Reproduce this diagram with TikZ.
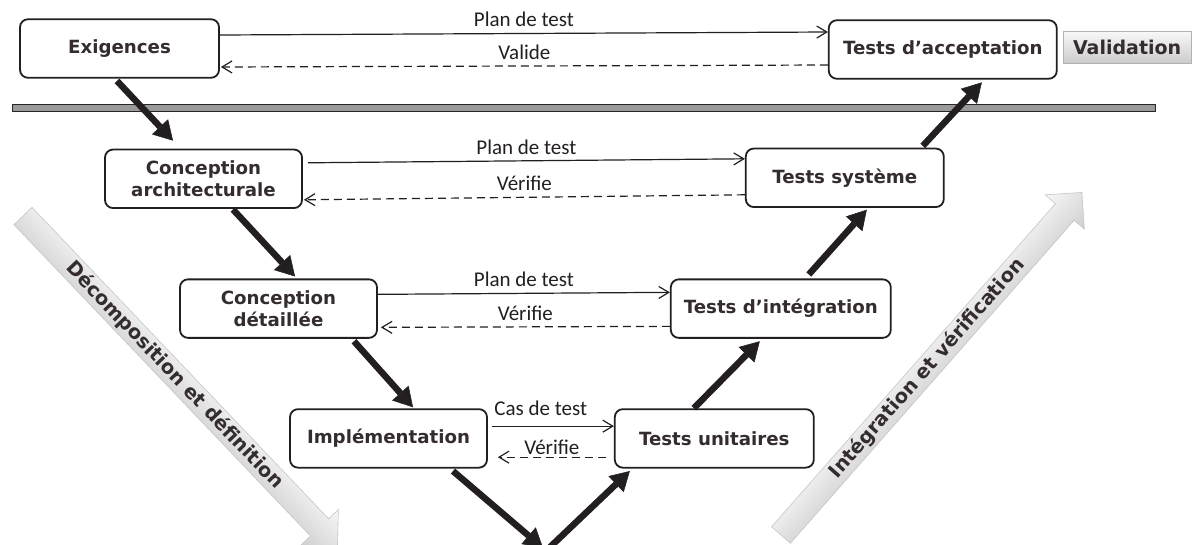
\documentclass[tikz,border=0pt]{standalone}
\usepackage{fontspec}
\usepackage{tikz}
\usepackage{xcolor}
\usetikzlibrary{arrows.meta,positioning}

\newfontfamily\dejavu{DejaVu Sans}
\newfontfamily\carlito{Carlito}
\definecolor{trait}{HTML}{231F20}
\definecolor{texte}{HTML}{352D2D}
\definecolor{barre}{HTML}{9A9A9A}

\begin{document}
\begin{tikzpicture}[x=1pt,y=-1pt,line join=miter]
  \tikzstyle{etape}=[draw=trait,line width=1.8pt,rounded corners=8pt,fill=white,text=texte,
                     font=\dejavu\bfseries\fontsize{18.2}{21.7}\selectfont,align=center,
                     inner sep=0pt,minimum height=58.5pt]
  \tikzstyle{flux}=[draw=trait,line width=6.5pt,-{Triangle[length=19pt,width=22pt,line width=0.5pt]}]
  \tikzstyle{plan}=[draw=trait,line width=1.2pt,-{Straight Barb[length=10pt,width=12pt]}]
  \tikzstyle{retour}=[plan,dash pattern=on 8pt off 5pt]
  \tikzstyle{etiq}=[font=\carlito\fontsize{21}{25}\selectfont,text=trait,inner sep=0pt]
  \tikzstyle{grise}=[draw=gray!45,line width=0.6pt,top color=gray!6,bottom color=gray!38]
  \tikzstyle{oblique}=[font=\dejavu\bfseries\fontsize{19.5}{23}\selectfont,text=texte,inner sep=0pt]
  \tikzstyle{phase}=[draw=gray!60,line width=0.8pt,top color=gray!5,bottom color=gray!40,text=texte,
                     font=\dejavu\bfseries\fontsize{19}{23}\selectfont,
                     minimum width=128pt,minimum height=32pt,inner sep=0pt]

  \path[fill=white,use as bounding box] (0,0) rectangle (1197,544);
  \clip (0,0) rectangle (1197,544);

  % grandes fleches grises
  \begin{scope}[transform canvas={shift={(23,216)},rotate=-46.4}]
    \shadedraw[grise] (0,-12.5) -- (430,-12.5) -- (430,-26) -- (456,0) -- (430,26) -- (430,12.5) -- (0,12.5) -- cycle;
    \node[oblique] (decomp) at (220,0) {Décomposition et définition};
  \end{scope}
  \begin{scope}[transform canvas={shift={(781,535)},rotate=48.7}]
    \shadedraw[grise] (0,-12.5) -- (430,-12.5) -- (430,-26) -- (456,0) -- (430,26) -- (430,12.5) -- (0,12.5) -- cycle;
    \node[oblique] (integ) at (221.5,0) {Intégration et vérification};
  \end{scope}

  % barre de validation
  \draw[draw=gray!30!black,line width=0.8pt,fill=barre] (12,104) rectangle (1155,111);

  % branche gauche
  \node[etape,minimum width=199pt] (exig) at (119.5,48.5) {Exigences};
  \node[etape,minimum width=197pt] (ca) [below=70pt of exig,xshift=84pt] {Conception\\architecturale};
  \node[etape,minimum width=197pt] (cd) [below=69.5pt of ca,xshift=75pt] {Conception\\détaillée};
  \node[etape,minimum width=197pt] (impl) [below=69.5pt of cd,xshift=110pt] {Implémentation};

  % branche droite
  \node[etape,minimum width=228pt] (accept) [right=608pt of exig,yshift=-1pt] {Tests d’acceptation};
  \node[phase] (valid) [right=5pt of accept,yshift=2.5pt] {Validation};
  \node[etape,minimum width=198pt] (ts) [right=442pt of ca,yshift=1pt] {Tests système};
  \node[etape,minimum width=220pt] (ti) [right=292pt of cd] {Tests d’intégration};
  \node[etape,minimum width=199pt] (tu) [right=126pt of impl] {Tests unitaires};

  \coordinate (fondg) at (543,548);
  \coordinate (fondd) at (548,549);

  \path ([yshift=13.5pt]exig.east) edge[plan] node[etiq,above=6pt] {Plan de test} ([yshift=17.5pt]accept.west)
        ([yshift=-15.5pt]accept.west) edge[retour] node[etiq,above=6pt] {Valide} ([xshift=1pt,yshift=-18.5pt]exig.east)
        ([xshift=5pt,yshift=16pt]ca.east) edge[plan] node[etiq,above=6pt] {Plan de test} ([yshift=19pt]ts.west)
        ([yshift=-17pt]ts.west) edge[retour] node[etiq,above=6pt] {Vérifie} ([xshift=1pt,yshift=-21pt]ca.east)
        ([yshift=14.25pt]cd.east) edge[plan] node[etiq,above=6pt] {Plan de test} ([yshift=16.25pt]ti.west)
        ([yshift=-17.75pt]ti.west) edge[retour] node[etiq,above=6pt] {Vérifie} ([xshift=3pt,yshift=-18.75pt]cd.east)
        ([xshift=4pt,yshift=12.25pt]impl.east) edge[plan] node[etiq,above=10pt,pos=0.4] {Cas de test} ([yshift=12.25pt]tu.west)
        ([xshift=-8pt,yshift=-18.75pt]tu.west) edge[retour] node[etiq,above=2pt] {Vérifie} ([xshift=10pt,yshift=-18.75pt]impl.east);

  \draw[flux] ([xshift=-2.5pt,yshift=-2.25pt]exig.south) -- ([xshift=-30.5pt,yshift=8pt]ca.north);
  \draw[flux] ([xshift=29.5pt,yshift=-0.5pt]ca.south) -- ([xshift=16.5pt,yshift=2pt]cd.north);
  \draw[flux] ([xshift=75.5pt,yshift=-2.5pt]cd.south) -- ([xshift=24.5pt,yshift=1pt]impl.north);
  \draw[flux] ([xshift=64.5pt,yshift=-2.5pt]impl.south) -- (fondg);
  \draw[flux] (fondd) -- ([xshift=-84.5pt,yshift=-2.5pt]tu.south);
  \draw[flux] ([xshift=-20.5pt]tu.north) -- ([xshift=-21pt,yshift=-2.5pt]ti.south);
  \draw[flux] ([xshift=28pt,yshift=4pt]ti.north) -- ([xshift=22pt,yshift=-1.75pt]ts.south);
  \draw[flux] ([xshift=78pt,yshift=1.75pt]ts.north) -- ([xshift=39pt,yshift=-2.75pt]accept.south);
\end{tikzpicture}
\end{document}
